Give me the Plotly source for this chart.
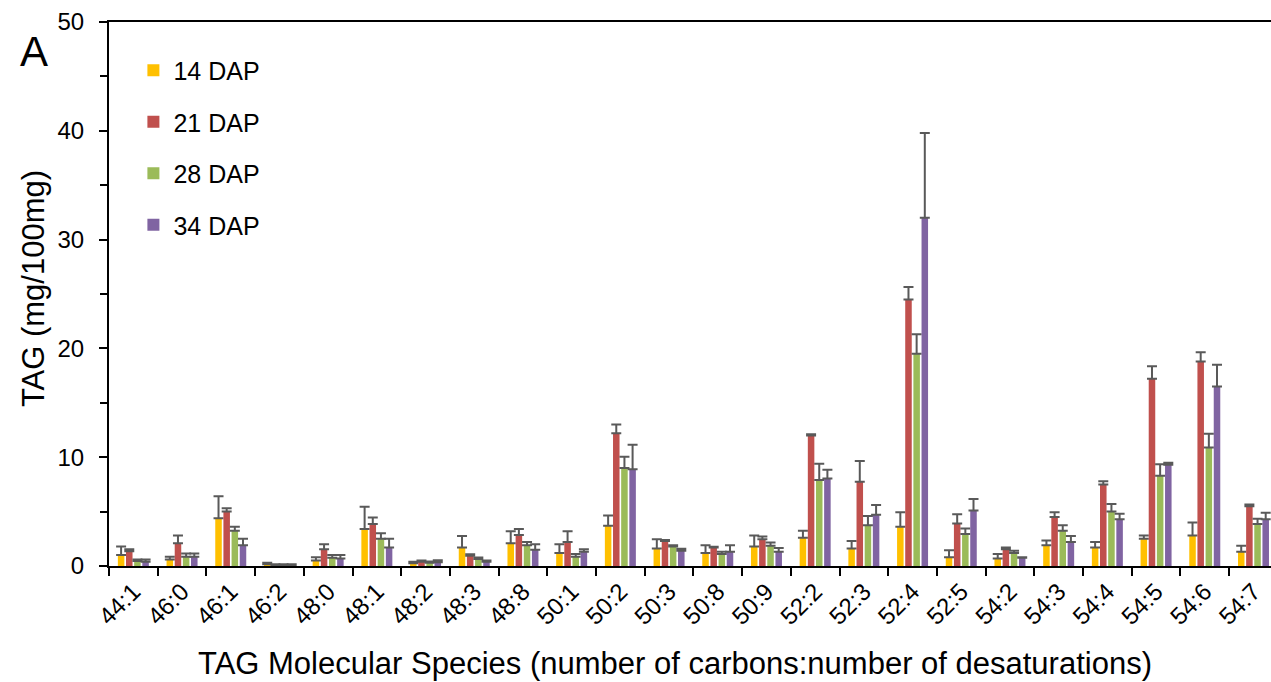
import plotly.graph_objects as go

categories = ["44:1", "46:0", "46:1", "46:2", "48:0", "48:1", "48:2", "48:3", "48:8",
              "50:1", "50:2", "50:3", "50:8", "50:9", "52:2", "52:3", "52:4", "52:5",
              "54:2", "54:3", "54:4", "54:5", "54:6", "54:7"]

series_names = ["14 DAP", "21 DAP", "28 DAP", "34 DAP"]

dap14 = [1.0, 0.6, 4.4, 0.15, 0.5, 3.4, 0.25, 1.7, 2.1, 1.2, 3.7, 1.6, 1.2, 1.8, 2.6, 1.6, 3.6, 0.8, 0.7, 1.9, 1.7, 2.5, 2.8, 1.3]
dap21 = [1.35, 2.1, 5.0, 0.1, 1.55, 3.85, 0.4, 0.95, 2.85, 2.2, 12.2, 2.3, 1.7, 2.45, 12.0, 7.75, 24.5, 3.9, 1.55, 4.5, 7.5, 17.2, 18.8, 5.5]
dap28 = [0.45, 0.85, 3.25, 0.1, 0.75, 2.5, 0.3, 0.65, 1.9, 0.85, 9.0, 1.8, 1.1, 1.85, 7.9, 3.75, 19.5, 2.95, 1.2, 3.25, 5.0, 8.3, 10.9, 3.85]
dap34 = [0.4, 0.85, 1.9, 0.1, 0.7, 1.7, 0.35, 0.4, 1.5, 1.3, 8.9, 1.4, 1.3, 1.3, 8.05, 4.7, 32.0, 5.1, 0.75, 2.2, 4.3, 9.3, 16.5, 4.3]

err14 = [0.8, 0.25, 2.0, 0.15, 0.3, 2.05, 0.15, 1.05, 1.1, 0.8, 0.95, 0.85, 0.7, 1.0, 0.65, 0.7, 1.35, 0.65, 0.4, 0.45, 0.5, 0.3, 1.2, 0.55]
err21 = [0.2, 0.7, 0.3, 0.05, 0.45, 0.6, 0.1, 0.12, 0.55, 1.0, 0.8, 0.1, 0.06, 0.25, 0.1, 1.9, 1.15, 0.85, 0.15, 0.45, 0.3, 1.15, 0.85, 0.15]
err28 = [0.15, 0.3, 0.35, 0.05, 0.25, 0.5, 0.12, 0.12, 0.3, 0.25, 1.05, 0.1, 0.2, 0.3, 1.5, 0.85, 1.8, 0.5, 0.2, 0.5, 0.7, 1.05, 1.25, 0.5]
err34 = [0.2, 0.3, 0.6, 0.05, 0.3, 0.8, 0.18, 0.1, 0.5, 0.25, 2.25, 0.18, 0.6, 0.35, 0.8, 0.9, 7.8, 1.05, 0.05, 0.55, 0.5, 0.2, 2.0, 0.6]

colors = ["#FFC000", "#C0504D", "#9BBB59", "#8064A2"]

x_title = "TAG Molecular Species (number of carbons:number of desaturations)"
y_title = "TAG (mg/100mg)"
panel_label = "A"

values = [dap14, dap21, dap28, dap34]
errors = [err14, err21, err28, err34]

FONT = "Liberation Sans, Arial, sans-serif"

fig = go.Figure()
for name, vals, errs, col in zip(series_names, values, errors, colors):
    fig.add_trace(go.Bar(
        x=categories, y=vals, name=name, legendgroup=name,
        marker=dict(color=col, line=dict(width=0)),
        error_y=dict(type="data", symmetric=False, array=errs,
                     arrayminus=[0] * len(errs), color="#595959",
                     thickness=2, width=5),
    ))

n = len(categories)
xrange = [-0.5, n - 0.64]

fig.update_layout(
    width=1271, height=682,
    margin=dict(l=109, r=0, t=22, b=116),
    paper_bgcolor="white", plot_bgcolor="white",
    barmode="group", bargap=0.33, bargroupgap=0.2,
    font=dict(family=FONT, size=24, color="#000000"),
    showlegend=True,
    legend=dict(x=0.021, y=0.953, xanchor="left", yanchor="top",
                bgcolor="rgba(0,0,0,0)", tracegroupgap=16,
                font=dict(size=25, family=FONT), itemwidth=30),
    xaxis=dict(
        type="category", categoryarray=categories, range=xrange,
        showline=True, linecolor="#000", linewidth=2, mirror=True,
        ticks="outside", ticklen=8, tickwidth=2, tickcolor="#000",
        tickson="boundaries", tickangle=-45,
        tickfont=dict(size=24, family=FONT),
        showgrid=False, zeroline=False,
    ),
    xaxis2=dict(
        overlaying="x", anchor="y", range=xrange, tick0=-0.5, dtick=1,
        ticks="inside", ticklen=6, tickwidth=2, tickcolor="#000",
        showticklabels=False, showgrid=False, zeroline=False, showline=False,
    ),
    yaxis=dict(
        range=[0, 50], tick0=0, dtick=10,
        showline=True, linecolor="#000", linewidth=2,
        ticks="outside", ticklen=8, tickwidth=2, tickcolor="#000",
        minor=dict(ticks="outside", ticklen=7, tickwidth=2, tickcolor="#000", dtick=5, tick0=0, showgrid=False),
        tickfont=dict(size=24, family=FONT), ticklabelstandoff=10,
        showgrid=False, zeroline=False,
    ),
    yaxis2=dict(
        overlaying="y", anchor="x", side="left", range=[0, 50], tick0=0, dtick=10,
        ticks="inside", ticklen=8, tickwidth=2, tickcolor="#000",
        showticklabels=False, showgrid=False, zeroline=False, showline=False,
    ),
    annotations=[
        dict(text=panel_label, xref="paper", yref="paper", x=-0.0645, y=0.946,
             xanchor="center", yanchor="middle", showarrow=False,
             font=dict(size=42, family=FONT, color="#000")),
        dict(text=x_title, xref="paper", yref="paper", x=0.487, y=-0.18,
             xanchor="center", yanchor="middle", showarrow=False,
             font=dict(size=31, family=FONT, color="#000")),
        dict(text=y_title, xref="paper", yref="paper", x=-0.0654, y=0.509,
             xanchor="center", yanchor="middle", showarrow=False, textangle=-90,
             font=dict(size=31, family=FONT, color="#000")),
    ],
)

fig.write_html("out.html")
